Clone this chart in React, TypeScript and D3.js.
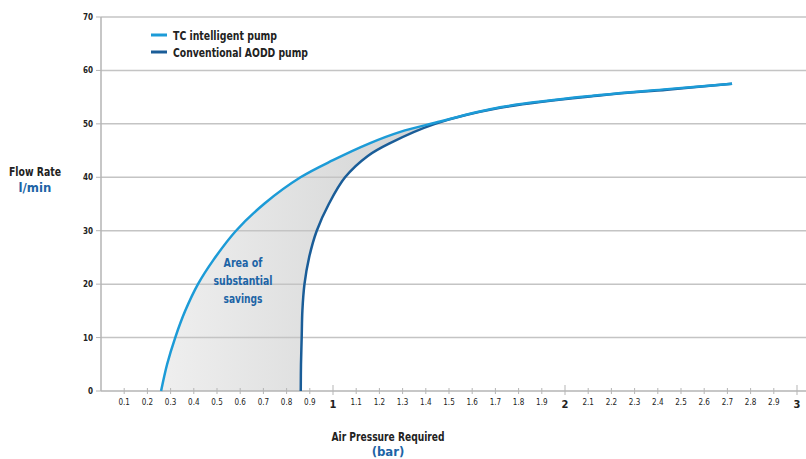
import React from "react";
import * as d3 from "d3";

const tcPressure = [0.259, 0.285, 0.32, 0.363, 0.418, 0.484, 0.582, 0.705, 0.86, 1.0, 1.16, 1.29, 1.44, 1.72, 2.15, 2.44, 2.72];
const tcFlow = [0, 5, 10, 15, 20, 24.5, 30, 35.1, 40, 43.2, 46.4, 48.5, 50.2, 53.1, 55.4, 56.5, 57.5];
const convPressure = [0.861, 0.862, 0.865, 0.868, 0.877, 0.897, 0.93, 0.982, 1.052, 1.15, 1.246, 1.44, 1.72, 2.15, 2.44, 2.72];
const convFlow = [0, 5, 10, 15, 20, 25, 30, 35, 40, 44, 46.4, 50.0, 53.0, 55.3, 56.4, 57.5];
const yTicks = [0, 10, 20, 30, 40, 50, 60, 70];
const xTicks = d3.range(1, 31).map((i) => i / 10);
const seriesNames = ["TC intelligent pump", "Conventional AODD pump"];
const areaLabel = ["Area of", "substantial", "savings"];

const W = 806;
const H = 459;
const FONT = "'Liberation Sans Narrow', 'DejaVu Sans Condensed', 'Liberation Sans', sans-serif";
const TC_COLOR = "#1c9bd7";
const CONV_COLOR = "#1a5d98";
const LABEL_BLUE = "#1d64a6";
const legendLen = [104, 135];
const areaLen = [39, 59, 39];

type Pt = { p: number; f: number };

export default function App() {
  const x = d3.scaleLinear().domain([0, 3]).range([101, 797]);
  const y = d3.scaleLinear().domain([0, 70]).range([391, 17]);

  const tcPts: Pt[] = tcPressure.map((p, i) => ({ p, f: tcFlow[i] }));
  const convPts: Pt[] = convPressure.map((p, i) => ({ p, f: convFlow[i] }));

  const curve = d3.curveCatmullRom.alpha(0.5);
  const line = d3
    .line<Pt>()
    .x((d) => x(d.p))
    .y((d) => y(d.f))
    .curve(curve);

  const tcArea = d3
    .area<Pt>()
    .x((d) => x(d.p))
    .y0(y(0))
    .y1((d) => y(d.f))
    .curve(curve);

  const tcPath = line(tcPts) || "";
  const convPath = line(convPts) || "";
  const last = convPts[convPts.length - 1];
  const clipD =
    `M${x(0)},0 L${x(0)},${y(0)} ` +
    convPath.replace(/^M/, "L") +
    ` L${W},${y(last.f)} L${W},0 Z`;

  const fillPts = tcPts.filter((d) => d.p <= 1.45);

  return (
    <svg width={W} height={H} style={{ position: "absolute", left: 0, top: 0, background: "#fff" }} fontFamily={FONT}>
      <defs>
        <linearGradient id="fillGrad" gradientUnits="userSpaceOnUse" x1={160} y1={0} x2={420} y2={0}>
          <stop offset="0" stopColor="#efefef" />
          <stop offset="1" stopColor="#d3d4d4" />
        </linearGradient>
        <clipPath id="aboveConv">
          <path d={clipD} />
        </clipPath>
      </defs>
      <path d={tcArea(fillPts) || ""} fill="url(#fillGrad)" clipPath="url(#aboveConv)" />
      {yTicks.filter((t) => t > 0).map((t) => (
        <line key={"g" + t} x1={101} x2={W} y1={y(t)} y2={y(t)} stroke="#c4c4c4" strokeWidth={1.5} />
      ))}
      {yTicks.map((t) => (
        <g key={"yt" + t}>
          <line x1={96} x2={101} y1={y(t)} y2={y(t)} stroke="#b5b5b5" strokeWidth={1} />
          <text x={93} y={y(t) + 3} textAnchor="end" fontSize={8} fontWeight="bold" fill="#222">
            {t}
          </text>
        </g>
      ))}
      <line x1={101} x2={101} y1={y(70)} y2={y(0)} stroke="#b5b5b5" strokeWidth={1.5} />
      <line x1={101} x2={W} y1={y(0)} y2={y(0)} stroke="#b5b5b5" strokeWidth={1.5} />
      {xTicks.map((t) => {
        const major = Math.abs(t - Math.round(t)) < 1e-9;
        return (
          <g key={"xt" + t}>
            <line x1={x(t)} x2={x(t)} y1={major ? 385 : 388} y2={major ? 395 : 394} stroke="#b5b5b5" strokeWidth={1} />
            <text
              x={x(t)}
              y={major ? 408 : 405}
              textAnchor="middle"
              fontSize={major ? 11 : 8}
              fontWeight={major ? "bold" : "normal"}
              fill="#222"
            >
              {major ? String(Math.round(t)) : t.toFixed(1)}
            </text>
          </g>
        );
      })}
      <path d={convPath} fill="none" stroke={CONV_COLOR} strokeWidth={2.5} />
      <path d={tcPath} fill="none" stroke={TC_COLOR} strokeWidth={2.5} />
      {seriesNames.map((n, i) => (
        <g key={n}>
          <line x1={151} x2={167} y1={35 + i * 17} y2={35 + i * 17} stroke={i === 0 ? TC_COLOR : CONV_COLOR} strokeWidth={3} />
          <text x={173} y={39.5 + i * 17} fontSize={13} fontWeight="bold" fill="#222" textLength={legendLen[i]} lengthAdjust="spacingAndGlyphs">
            {n}
          </text>
        </g>
      ))}
      <text x={35} y={176} textAnchor="middle" fontSize={13} fontWeight="bold" fill="#222" textLength={52} lengthAdjust="spacingAndGlyphs">
        Flow Rate
      </text>
      <text x={35} y={192} textAnchor="middle" fontSize={13} fontWeight="bold" fill={LABEL_BLUE}>
        l/min
      </text>
      <text x={388} y={441} textAnchor="middle" fontSize={13} fontWeight="bold" fill="#222" textLength={113} lengthAdjust="spacingAndGlyphs">
        Air Pressure Required
      </text>
      <text x={388} y={456} textAnchor="middle" fontSize={13} fontWeight="bold" fill={LABEL_BLUE}>
        (bar)
      </text>
      {areaLabel.map((s, i) => (
        <text key={s} x={243} y={267 + i * 18} textAnchor="middle" fontSize={13} fontWeight="bold" fill={LABEL_BLUE} textLength={areaLen[i]} lengthAdjust="spacingAndGlyphs">
          {s}
        </text>
      ))}
    </svg>
  );
}
